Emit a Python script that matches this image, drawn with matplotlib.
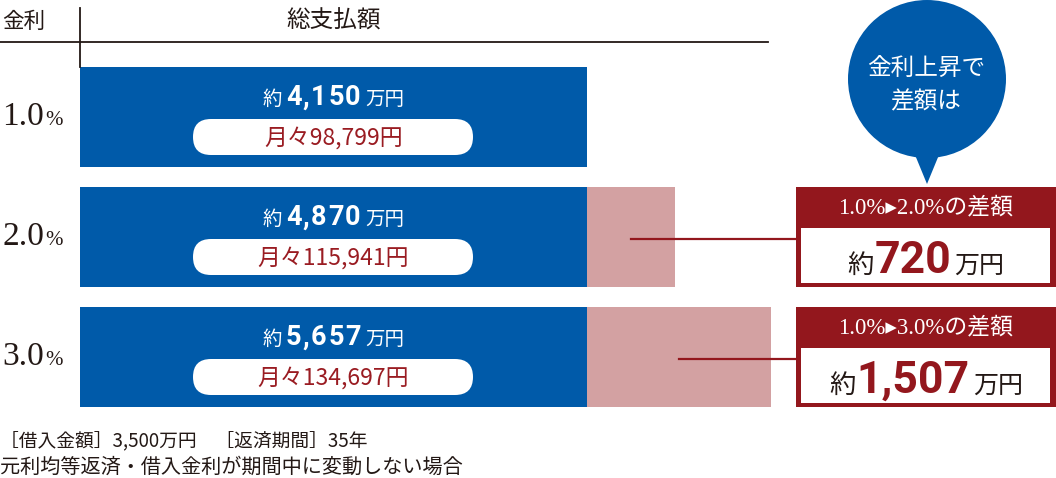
import matplotlib
matplotlib.use('Agg')
import matplotlib.pyplot as plt
from matplotlib.patches import Rectangle, FancyBboxPatch, Circle, Polygon

# ---- data ----
rates = ['1.0', '2.0', '3.0']
totals = [4150, 4870, 5657]
total_labels = ['4,150', '4,870', '5,657']
monthly_labels = ['98,799', '115,941', '134,697']
diff_titles = ['1.0%▸2.0%の差額', '1.0%▸3.0%の差額']
diff_labels = ['720', '1,507']
base = totals[0]

BLUE = '#005aa9'
PINK = '#d3a1a2'
RED = '#93171d'
PILLRED = '#9a1c22'
DARK = '#231815'

JP = ['Noto Sans CJK JP', 'DejaVu Sans']
SERIF = ['Liberation Serif', 'Noto Sans CJK JP', 'DejaVu Sans']
NUM = ['Roboto', 'DejaVu Sans']

W, H = 1056, 478
fig = plt.figure(figsize=(W / 100, H / 100), dpi=100)

# bar axes (pixel region x 80..771, y 57..417)
ax = fig.add_axes([80 / W, 1 - 417 / H, (771 - 80) / W, (417 - 57) / H])
ax.set_xlim(0, 5657)
ax.set_ylim(2.5, -0.5)
ax.axis('off')
ypos = list(range(len(totals)))
bh = 100 / 120
ax.barh(ypos, [base] * len(totals), left=0, height=bh, color=BLUE, zorder=1)
ax.barh(ypos, [t - base for t in totals], left=base, height=bh, color=PINK, zorder=1)

# overlay axes in pixel coordinates
ov = fig.add_axes([0, 0, 1, 1], zorder=5)
ov.set_xlim(0, W)
ov.set_ylim(H, 0)
ov.axis('off')
ov.patch.set_alpha(0)

def to_px(x, y):
    d = ax.transData.transform((x, y))
    return d[0], H - d[1]

renderer = fig.canvas.get_renderer()

def pieces(xc, yb, parts):
    """parts: list of (text, kwargs, gap_after_px)"""
    texts, widths = [], []
    for s, kw, g in parts:
        t = ov.text(0, yb, s, ha='left', va='baseline', **kw)
        bb = t.get_window_extent(renderer)
        texts.append(t)
        widths.append(bb.width + g)
    x = xc - (sum(widths) - parts[-1][2]) / 2
    for t, w in zip(texts, widths):
        t.set_x(x)
        x += w

def spaced(s, kw, gap, end_gap):
    out = [(c, kw, gap) for c in s]
    out[-1] = (s[-1], kw, end_gap)
    return out

# header
ov.plot([0, 768], [42, 42], color=DARK, lw=1.3)
ov.plot([80, 80], [8, 67], color=DARK, lw=1.3)
ov.text(2, 28, '金利', fontsize=15.5, family=JP, color=DARK, ha='left', va='baseline')
xc_blue, _ = to_px(base / 2, 0)
ov.text(xc_blue, 28, '総支払額', fontsize=17, family=JP, color=DARK, ha='center', va='baseline')

# bar labels
numkw = dict(fontsize=19.5, family=NUM, weight='bold', color='white')
for i in ypos:
    xc, yc = to_px(base / 2, i)
    parts = [('約', dict(fontsize=14, family=JP, color='white'), 4)]
    parts += spaced(total_labels[i], numkw, 1.5, 5)
    parts += [('万円', dict(fontsize=14, family=JP, color='white'), 0)]
    pieces(xc, yc - 12, parts)
    pill = FancyBboxPatch((193, yc + 2), 280, 36,
                          boxstyle='round,pad=0,rounding_size=18',
                          fc='white', ec='none')
    ov.add_patch(pill)
    pieces(xc, yc + 28, [
        ('月々' + monthly_labels[i] + '円', dict(fontsize=16.5, family=JP, color=PILLRED), 0),
    ])
    # rate labels
    ov.text(2, yc + 8, rates[i], fontsize=24, family=SERIF, color=DARK, ha='left', va='baseline')
    ov.text(45, yc + 8, '%', fontsize=15, family=SERIF, color=DARK, ha='left', va='baseline')

# speech bubble
ov.add_patch(Circle((927, 79), 79, fc=BLUE, ec='none'))
ov.add_patch(Polygon([[913, 150], [941, 150], [927, 184]], closed=True, fc=BLUE, ec='none'))
ov.text(926, 68, '金利上昇で', fontsize=17, family=JP, color='white', ha='center', va='center')
ov.text(926, 102, '差額は', fontsize=17, family=JP, color='white', ha='center', va='center')

# callout boxes
for k, i in enumerate(ypos[1:]):
    _, yc = to_px(0, i)
    top = yc - 50
    ov.add_patch(Rectangle((796, top), 260, 100, fc=RED, ec='none'))
    ov.add_patch(Rectangle((801, top + 41), 249, 55, fc='white', ec='none'))
    ov.text(926, top + 20, diff_titles[k], fontsize=16.5, family=SERIF, color='white',
            ha='center', va='center')
    pieces(926, top + 86, [
        ('約', dict(fontsize=19, family=JP, color=DARK), 1),
        (diff_labels[k], dict(fontsize=32, family=NUM, weight='bold', color=RED), 3),
        ('万円', dict(fontsize=18, family=JP, color=DARK), 0),
    ])
    # connector line from middle of the pink segment
    x0, _ = to_px((base + totals[i]) / 2, i)
    ov.plot([x0, 796], [yc + 2, yc + 2], color=RED, lw=1.6)

# notes
ov.text(0, 447, '［借入金額］3,500万円　［返済期間］35年', fontsize=13.5, family=JP,
        color=DARK, ha='left', va='baseline')
ov.text(0, 473, '元利均等返済・借入金利が期間中に変動しない場合', fontsize=14.5, family=JP,
        color=DARK, ha='left', va='baseline')

fig.savefig('out.png', dpi=100)
